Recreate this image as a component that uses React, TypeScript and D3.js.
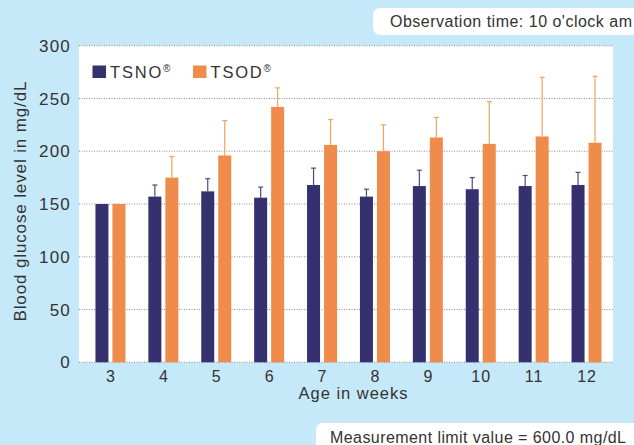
import React, { useEffect, useRef } from "react";
import * as d3 from "d3";

const weeks = ["3", "4", "5", "6", "7", "8", "9", "10", "11", "12"];
const tsnoMean = [150, 157, 162, 156, 168, 157, 167, 164, 167, 168];
const tsnoSd = [0, 11, 12, 10, 16, 7, 15, 11, 10, 12];
const tsodMean = [150, 175, 196, 242, 206, 200, 213, 207, 214, 208];
const tsodSd = [0, 20, 33, 18, 24, 25, 19, 40, 56, 63];
const yTicks = [0, 50, 100, 150, 200, 250, 300];

const seriesNames = ["TSNO", "TSOD"];
const seriesColors = ["#35306e", "#ef8b4b"];
const errColors = ["#4b4a7c", "#f0a45e"];

const W = 634;
const H = 445;
const FONT = "'Liberation Sans', Arial, sans-serif";
const INK = "#333";

export default function App() {
  const svgRef = useRef<SVGSVGElement | null>(null);

  useEffect(() => {
    if (!svgRef.current) return;
    const svg = d3.select(svgRef.current);
    svg.selectAll("*").remove();

    // background
    svg.append("rect").attr("width", W).attr("height", H).attr("fill", "#c6e9f9");

    const plot = { left: 79, right: 613 };

    const x = d3.scaleBand<string>()
      .domain(weeks)
      .range([84, 613])
      .padding(0);
    const y = d3.scaleLinear().domain([0, 300]).range([362.3, 45.7]);

    // white plot area
    svg.append("rect")
      .attr("x", plot.left)
      .attr("y", y(300))
      .attr("width", plot.right - plot.left)
      .attr("height", y(0) - y(300))
      .attr("fill", "#ffffff");

    // dotted gridlines
    svg.append("g")
      .selectAll("line")
      .data(yTicks)
      .join("line")
      .attr("x1", plot.left)
      .attr("x2", plot.right)
      .attr("y1", (d) => y(d))
      .attr("y2", (d) => y(d))
      .attr("stroke", "#8c8c8c")
      .attr("stroke-width", 1)
      .attr("stroke-dasharray", "1,1.5");

    // y tick labels
    svg.append("g")
      .selectAll("text")
      .data(yTicks)
      .join("text")
      .attr("x", 71)
      .attr("y", (d) => y(d))
      .attr("dy", "0.36em")
      .attr("text-anchor", "end")
      .attr("font-family", FONT)
      .attr("font-size", 17)
      .attr("letter-spacing", 1.2)
      .attr("fill", INK)
      .text((d) => d);

    // x tick labels
    svg.append("g")
      .selectAll("text")
      .data(weeks)
      .join("text")
      .attr("x", (d) => (x(d) ?? 0) + x.bandwidth() / 2 + 0.5)
      .attr("y", 382)
      .attr("text-anchor", "middle")
      .attr("font-family", FONT)
      .attr("font-size", 16)
      .attr("letter-spacing", 1)
      .attr("fill", INK)
      .text((d) => d);

    const barW = 13;
    const offsets = [-8.5, 8.5];
    const means = [tsnoMean, tsodMean];
    const sds = [tsnoSd, tsodSd];

    means.forEach((vals, si) => {
      const g = svg.append("g");
      const cx = (i: number) => (x(weeks[i]) ?? 0) + x.bandwidth() / 2 + offsets[si];

      // error bars (upper only)
      const errs = vals.map((v, i) => ({ i, v, sd: sds[si][i] })).filter((d) => d.sd > 0);
      g.selectAll("line.err")
        .data(errs)
        .join("line")
        .attr("class", "err")
        .attr("x1", (d) => cx(d.i))
        .attr("x2", (d) => cx(d.i))
        .attr("y1", (d) => y(d.v))
        .attr("y2", (d) => y(d.v + d.sd))
        .attr("stroke", errColors[si])
        .attr("stroke-width", 1.2);
      g.selectAll("line.cap")
        .data(errs)
        .join("line")
        .attr("class", "cap")
        .attr("x1", (d) => cx(d.i) - 2.5)
        .attr("x2", (d) => cx(d.i) + 2.5)
        .attr("y1", (d) => y(d.v + d.sd))
        .attr("y2", (d) => y(d.v + d.sd))
        .attr("stroke", errColors[si])
        .attr("stroke-width", 1.2);

      g.selectAll("rect")
        .data(vals)
        .join("rect")
        .attr("x", (_, i) => cx(i) - barW / 2)
        .attr("y", (d) => y(d))
        .attr("width", barW)
        .attr("height", (d) => y(0) - y(d))
        .attr("fill", seriesColors[si]);
    });

    // legend
    const legendX = [92.5, 193];
    seriesNames.forEach((name, i) => {
      svg.append("rect")
        .attr("x", legendX[i])
        .attr("y", 65.5)
        .attr("width", 13.5)
        .attr("height", 12.5)
        .attr("fill", seriesColors[i]);
      svg.append("text")
        .attr("x", legendX[i] + 17.5)
        .attr("y", 78)
        .attr("font-family", FONT)
        .attr("font-size", 16.5)
        .attr("fill", INK)
        .text(null)
        .call((t) => {
          t.append("tspan").attr("letter-spacing", 1.8).text(name);
          t.append("tspan").attr("dy", -6).attr("font-size", 10).text("®");
        });
    });

    // axis titles
    svg.append("text")
      .attr("x", 353)
      .attr("y", 399)
      .attr("text-anchor", "middle")
      .attr("font-family", FONT)
      .attr("font-size", 16.5)
      .attr("textLength", 109)
      .attr("lengthAdjust", "spacing")
      .attr("fill", INK)
      .text("Age in weeks");

    svg.append("text")
      .attr("transform", "translate(25.5,201.5) rotate(-90)")
      .attr("text-anchor", "middle")
      .attr("font-family", FONT)
      .attr("font-size", 17)
      .attr("textLength", 240)
      .attr("lengthAdjust", "spacing")
      .attr("fill", INK)
      .text("Blood glucose level in mg/dL");

    // note boxes
    svg.append("rect")
      .attr("x", 373)
      .attr("y", 8)
      .attr("width", 280)
      .attr("height", 27)
      .attr("rx", 7)
      .attr("fill", "#ffffff");
    svg.append("text")
      .attr("x", 390)
      .attr("y", 27)
      .attr("font-family", FONT)
      .attr("font-size", 16)
      .attr("textLength", 242)
      .attr("lengthAdjust", "spacing")
      .attr("fill", INK)
      .text("Observation time: 10 o'clock am");

    svg.append("rect")
      .attr("x", 316)
      .attr("y", 423)
      .attr("width", 340)
      .attr("height", 40)
      .attr("rx", 7)
      .attr("fill", "#ffffff");
    svg.append("text")
      .attr("x", 330)
      .attr("y", 443)
      .attr("font-family", FONT)
      .attr("font-size", 16)
      .attr("textLength", 296)
      .attr("lengthAdjust", "spacing")
      .attr("fill", INK)
      .text("Measurement limit value = 600.0 mg/dL");
  }, []);

  return (
    <svg
      ref={svgRef}
      width={W}
      height={H}
      style={{ position: "absolute", left: 0, top: 0, display: "block" }}
    />
  );
}
